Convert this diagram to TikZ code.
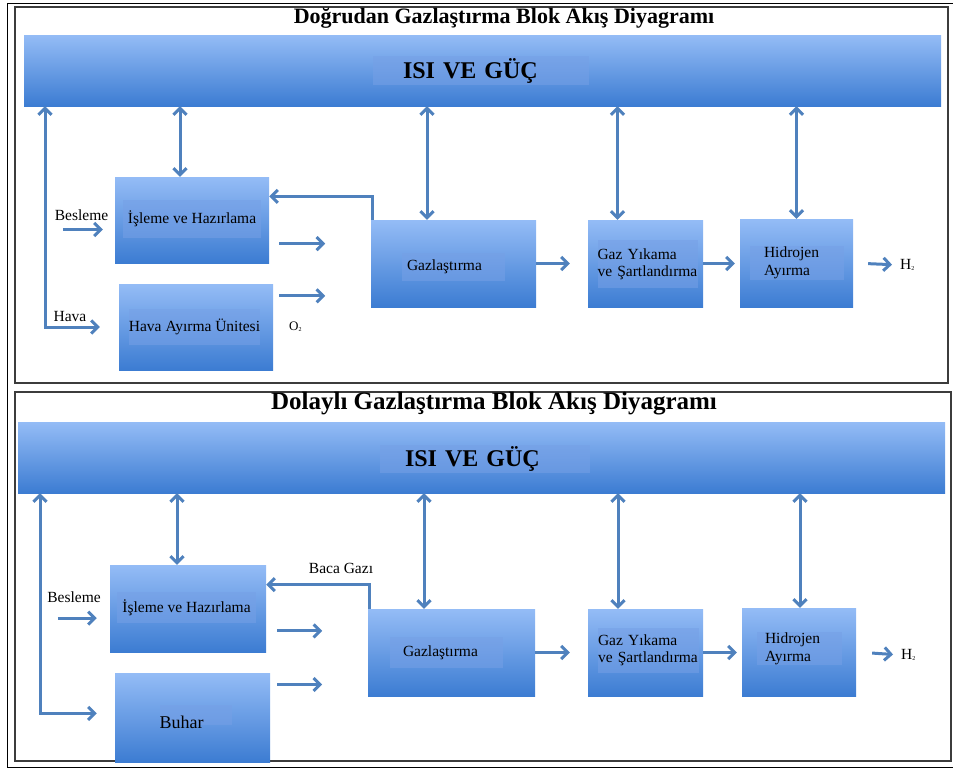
\documentclass[tikz,border=0pt]{standalone}
\usepackage{fontspec}
\setmainfont{Liberation Serif}
\usepackage{tikz}
\usetikzlibrary{arrows.meta}

\definecolor{blokUst}{RGB}{148,188,246}
\definecolor{blokAlt}{RGB}{60,124,210}
\definecolor{etiketRenk}{RGB}{118,160,230}
\definecolor{okRenk}{RGB}{79,129,189}
\definecolor{cerceve}{RGB}{60,60,60}

\begin{document}
\begin{tikzpicture}[x=1pt,y=1pt,yscale=-1,xscale=1,
  blok/.style={draw=none,top color=blokUst,bottom color=blokAlt,inner sep=0pt},
  etiket/.style={fill=etiketRenk,fill opacity=0.55,text opacity=1,inner sep=0pt,font=\fontsize{15.5}{17}\selectfont},
  yazi/.style={inner sep=0pt,font=\fontsize{15.5}{17}\selectfont},
  baslik/.style={inner sep=0pt,font=\bfseries\fontsize{22}{24}\selectfont},
  ok/.style={draw=okRenk,line width=3pt,-{Straight Barb[length=6.5pt,width=13pt]}},
  ciftok/.style={ok,{Straight Barb[length=6.5pt,width=13pt]}-{Straight Barb[length=6.5pt,width=13pt]}}]
\useasboundingbox (0,0) rectangle (953,769);

%Shape: outer frame
\draw [line width=1pt] (953,3) -- (7,3) -- (7,767) -- (953,767) ;
%Shape: panel frames
\draw [color=cerceve,line width=1.6pt] (15,7) rectangle (948,383) ;
\draw [color=cerceve,line width=1.6pt] (15,392) rectangle (951,761) ;

%%%%%%%%%%%%%%%% Doğrudan gazlaştırma
% Text Node
\node [baslik] (titA) at (504,18) {Doğrudan Gazlaştırma Blok Akış Diyagramı};

%Shape: Rectangle
\node [blok,minimum width=917pt,minimum height=71pt] (barA) at (482.5,70.5) {};
\node [blok,minimum width=154pt,minimum height=86pt] (isleA) at (192,220) {};
\node [blok,minimum width=154pt,minimum height=86pt] (havaA) at (196,327) {};
\node [blok,minimum width=165pt,minimum height=87pt] (gazA) at (453.5,263.5) {};
\node [blok,minimum width=115pt,minimum height=87pt] (yikA) at (645.5,263.5) {};
\node [blok,minimum width=113pt,minimum height=88pt] (hidA) at (796.5,263) {};

% Text Node
\node [etiket,minimum width=216pt,minimum height=29pt,text width=156pt,align=left,font=\bfseries\fontsize{24}{26}\selectfont] (isiA) at (481,70.5) {ISI VE GÜÇ};
\node [etiket,minimum width=138pt,minimum height=38pt] (isleAt) at (192,219) {İşleme ve Hazırlama};
\node [etiket,minimum width=123pt,minimum height=36pt] (havaAt) at (194.5,327) {Hava Ayırma Ünitesi};
\node [etiket,minimum width=103pt,minimum height=28pt,text width=93pt,align=left] (gazAt) at (453.5,267) {Gazlaştırma};
\node [etiket,minimum width=100pt,minimum height=48pt,text width=100pt,align=left] (yikAt) at (647.5,264) {Gaz Yıkama\\ve Şartlandırma};
\node [etiket,minimum width=94pt,minimum height=34pt,text width=66pt,align=left,font=\fontsize{15.5}{18}\selectfont] (hidAt) at (797,263) {Hidrojen\\Ayırma};

% Text Node
\node [yazi] (besA) at (81.5,215) {Besleme};
\node [yazi] (havA) at (70,316) {Hava};
\node [yazi,anchor=west,font=\fontsize{13}{15}\selectfont] (o2A) at (289,327) {O\raisebox{-1pt}{\fontsize{6}{6}\selectfont 2}};
\node [yazi,anchor=west] (h2A) at (900,265) {H\raisebox{-1pt}{\fontsize{6}{6}\selectfont 2}};

% Connectors
\draw [ciftok] ([xshift=-437.5pt]barA.south) |- ([xshift=-19pt]havaA.west) ;
\draw [ciftok] ([xshift=-12pt]isleA.north |- barA.south) -- ([xshift=-12pt]isleA.north) ;
\draw [ciftok] ([xshift=-26.5pt]gazA.north |- barA.south) -- ([xshift=-26.5pt]gazA.north) ;
\draw [ciftok] ([xshift=-28pt]yikA.north |- barA.south) -- ([xshift=-28pt]yikA.north) ;
\draw [ciftok] (hidA.north |- barA.south) -- (hidA.north) ;
\draw [ok] ([xshift=1.5pt]gazA.north west) |- (isleA.17) ;
\draw [ok] ([xshift=-52pt]isleA.187) -- ([xshift=-12pt]isleA.187) ;
\draw [ok] ([xshift=10pt]isleA.-17) -- +(46,0) ;
\draw [ok] ([xshift=6pt]havaA.22.6) -- +(46,0) ;
\draw [ok] (gazA.east) -- ([xshift=-18pt]yikA.west) ;
\draw [ok] (yikA.east) -- ([xshift=-5pt]hidA.west |- yikA.east) ;
\draw [ok,shorten <=15pt,shorten >=8pt] (hidA.east) -- (h2A.west) ;

%%%%%%%%%%%%%%%% Dolaylı gazlaştırma
% Text Node
\node [baslik,font=\bfseries\fontsize{25}{27}\selectfont] (titB) at (494,404) {Dolaylı Gazlaştırma Blok Akış Diyagramı};

%Shape: Rectangle
\node [blok,minimum width=927pt,minimum height=71pt] (barB) at (481.5,457.5) {};
\node [blok,minimum width=156pt,minimum height=87pt] (isleB) at (188,608.5) {};
\node [blok,minimum width=155pt,minimum height=89pt] (buharB) at (192.5,717.5) {};
\node [blok,minimum width=167pt,minimum height=87pt] (gazB) at (451.5,652.5) {};
\node [blok,minimum width=115pt,minimum height=87pt] (yikB) at (645.5,652.5) {};
\node [blok,minimum width=114pt,minimum height=88pt] (hidB) at (799,652) {};

% Text Node
\node [etiket,minimum width=210pt,minimum height=28pt,text width=160pt,align=left,font=\bfseries\fontsize{24}{26}\selectfont] (isiB) at (485,459) {ISI VE GÜÇ};
\node [etiket,minimum width=139pt,minimum height=31pt] (isleBt) at (186.5,607.5) {İşleme ve Hazırlama};
\node [etiket,minimum width=72pt,minimum height=20pt] (buharBt) at (196,715) {};
\node [yazi,font=\fontsize{18}{20}\selectfont] (buharBy) at (181.5,722) {Buhar};
\node [etiket,minimum width=113pt,minimum height=31pt,text width=87pt,align=left] (gazBt) at (446.5,652.5) {Gazlaştırma};
\node [etiket,minimum width=101pt,minimum height=45pt,text width=100pt,align=left] (yikBt) at (648,650.5) {Gaz Yıkama\\ve Şartlandırma};
\node [etiket,minimum width=85pt,minimum height=33pt,text width=69pt,align=left,font=\fontsize{15.5}{18}\selectfont] (hidBt) at (799.5,648.5) {Hidrojen\\Ayırma};

% Text Node
\node [yazi] (besB) at (74,597) {Besleme};
\node [yazi] (bacaB) at (341,568) {Baca Gazı};
\node [yazi,anchor=west] (h2B) at (901,655) {H\raisebox{-1pt}{\fontsize{6}{6}\selectfont 2}};

% Connectors
\draw [ciftok] ([xshift=-441.5pt]barB.south) |- ([xshift=-18pt]buharB.177) ;
\draw [ciftok] ([xshift=-11pt]isleB.north |- barB.south) -- ([xshift=-11pt]isleB.north) ;
\draw [ciftok] ([xshift=-27.5pt]gazB.north |- barB.south) -- ([xshift=-27.5pt]gazB.north) ;
\draw [ciftok] ([xshift=-27.5pt]yikB.north |- barB.south) -- ([xshift=-27.5pt]yikB.north) ;
\draw [ciftok] ([xshift=1pt]hidB.north |- barB.south) -- ([xshift=1pt]hidB.north) ;
\draw [ok] ([xshift=1.5pt]gazB.north west) |- (isleB.17) ;
\draw [ok] ([xshift=-52pt]isleB.187) -- ([xshift=-13pt]isleB.187) ;
\draw [ok] ([xshift=11pt]isleB.-16) -- +(45,0) ;
\draw [ok] ([xshift=7pt]buharB.23) -- +(45,0) ;
\draw [ok] (gazB.east) -- ([xshift=-18pt]yikB.west) ;
\draw [ok] (yikB.east) -- ([xshift=-5pt]hidB.west |- yikB.east) ;
\draw [ok,shorten <=16pt,shorten >=8pt] (hidB.east) -- (h2B.west) ;

\end{tikzpicture}
\end{document}
